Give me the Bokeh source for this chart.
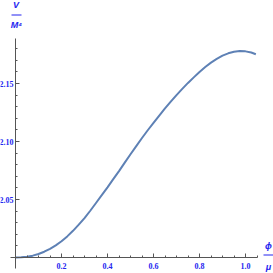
from bokeh.plotting import figure
from bokeh.models import Range1d, LinearAxis, FixedTicker, Label, BoxAnnotation, NumeralTickFormatter
from bokeh.embed import file_html
from bokeh.resources import INLINE

# data
phi = [0.000, 0.025, 0.050, 0.075, 0.100, 0.125, 0.150, 0.175, 0.200, 0.225,
       0.250, 0.275, 0.300, 0.325, 0.350, 0.375, 0.400, 0.425, 0.450, 0.475,
       0.500, 0.525, 0.550, 0.575, 0.600, 0.625, 0.650, 0.675, 0.700, 0.725,
       0.750, 0.775, 0.800, 0.825, 0.850, 0.875, 0.900, 0.925, 0.950, 0.975,
       1.000, 1.025, 1.045]
V = [2.0000, 2.0002, 2.0007, 2.0016, 2.0030, 2.0050, 2.0075, 2.0105, 2.0140, 2.0182,
     2.0230, 2.0283, 2.0340, 2.0403, 2.0470, 2.0537, 2.0605, 2.0675, 2.0745, 2.0818,
     2.0890, 2.0960, 2.1030, 2.1097, 2.1160, 2.1223, 2.1285, 2.1343, 2.1400, 2.1454,
     2.1505, 2.1553, 2.1600, 2.1642, 2.1680, 2.1712, 2.1740, 2.1760, 2.1773, 2.1780,
     2.1777, 2.1767, 2.1752]

x_major = [0.2, 0.4, 0.6, 0.8, 1.0]
x_minor = [0.05, 0.10, 0.15, 0.25, 0.30, 0.35, 0.45, 0.50, 0.55, 0.65, 0.70, 0.75,
           0.85, 0.90, 0.95, 1.05]
y_major = [2.05, 2.10, 2.15]
y_minor = [2.01, 2.02, 2.03, 2.04, 2.06, 2.07, 2.08, 2.09, 2.11, 2.12, 2.13, 2.14,
           2.16, 2.17, 2.18]

W = H = 273
X0, SX = 15.0, 230.0   # pixel of phi=0, pixels per unit
Y0, SY = 257.0, 1160.0  # pixel of V=2, pixels per unit

def dx(px):
    return (px - X0) / SX

def dy(py):
    return 2.0 + (Y0 - py) / SY

p = figure(width=W, height=H, output_backend="svg", toolbar_location=None,
           x_range=Range1d(dx(0), dx(W)), y_range=Range1d(dy(H), dy(0)),
           x_axis_location=None, y_axis_location=None, min_border=0,
           outline_line_color=None, background_fill_color="white",
           border_fill_color="white")
p.xgrid.visible = False
p.ygrid.visible = False

p.line(phi, V, line_color="#5E81B5", line_width=2)

axis_col = "#555555"
lab_col = "#2424f0"
tick_font = "Liberation Sans Narrow"

xa = LinearAxis(ticker=FixedTicker(ticks=x_major, minor_ticks=x_minor),
                formatter=NumeralTickFormatter(format="0.0"),
                fixed_location=2.0, bounds=(dx(10), dx(257)))
ya = LinearAxis(ticker=FixedTicker(ticks=y_major, minor_ticks=y_minor),
                formatter=NumeralTickFormatter(format="0.00"),
                fixed_location=0.0, bounds=(dy(268), dy(38)))
for a in (xa, ya):
    a.axis_line_color = axis_col
    a.axis_line_width = 1
    a.major_tick_line_color = axis_col
    a.minor_tick_line_color = axis_col
    a.major_tick_in = 4
    a.major_tick_out = 0
    a.minor_tick_in = 2
    a.minor_tick_out = 0
    a.major_label_text_color = lab_col
    a.major_label_text_font = tick_font
    a.major_label_text_font_style = "bold"
    a.major_label_text_font_size = "8px"
xa.major_label_standoff = 5
ya.major_label_standoff = 2
p.add_layout(xa, "below")
p.add_layout(ya, "left")

def lab(text, px, py, size="9px"):
    p.add_layout(Label(x=dx(px), y=dy(py), text=text, text_align="center",
                       text_baseline="middle", text_color=lab_col,
                       text_font="Liberation Sans", text_font_style="bold italic",
                       text_font_size=size))

lab("V", 15.5, 4.5)
lab("M\u2074", 16, 24.5)
lab("\u03d5", 268, 245)
lab("\u03bc", 268, 266)
p.add_layout(BoxAnnotation(left=dx(11), right=dx(21), bottom=dy(15), top=dy(14),
                           fill_color=lab_col, fill_alpha=1, line_color=None))
p.add_layout(BoxAnnotation(left=dx(263), right=dx(273), bottom=dy(255), top=dy(254),
                           fill_color=lab_col, fill_alpha=1, line_color=None))

open("out.html", "w").write(file_html(p, INLINE))
